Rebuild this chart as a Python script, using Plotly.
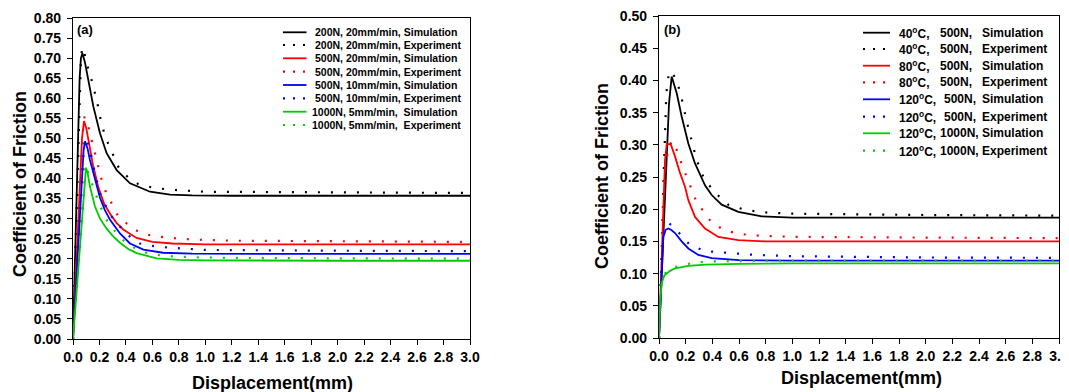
import plotly.graph_objects as go

# ---------------- Panel (a) data ----------------
a_200_20_sim_x = [0, 0.01, 0.02, 0.03, 0.04, 0.05, 0.06, 0.071, 0.09, 0.116, 0.154, 0.204, 0.254, 0.33, 0.431, 0.582, 0.733, 0.9, 1.2, 2.0, 3.0]
a_200_20_sim_y = [0, 0.13, 0.27, 0.42, 0.56, 0.65, 0.70, 0.712, 0.69, 0.645, 0.579, 0.513, 0.463, 0.421, 0.388, 0.367, 0.360, 0.358, 0.357, 0.357, 0.357]
a_200_20_exp_x = [0, 0.01, 0.02, 0.035, 0.05, 0.06, 0.071, 0.085, 0.103, 0.141, 0.179, 0.217, 0.254, 0.292, 0.343, 0.393, 0.494, 0.607, 0.733, 1.0, 1.5, 2.0, 3.0]
a_200_20_exp_y = [0, 0.12, 0.26, 0.46, 0.64, 0.70, 0.727, 0.715, 0.687, 0.645, 0.596, 0.533, 0.496, 0.467, 0.429, 0.409, 0.386, 0.377, 0.372, 0.367, 0.366, 0.365, 0.364]

a_500_20_sim_x = [0, 0.02, 0.04, 0.055, 0.068, 0.083, 0.10, 0.12, 0.15, 0.19, 0.235, 0.28, 0.33, 0.38, 0.48, 0.60, 0.75, 1.0, 2.0, 3.0]
a_500_20_sim_y = [0, 0.14, 0.29, 0.40, 0.50, 0.543, 0.525, 0.49, 0.435, 0.38, 0.337, 0.312, 0.289, 0.273, 0.252, 0.242, 0.238, 0.236, 0.236, 0.236]
a_500_20_exp_x = [0, 0.02, 0.04, 0.06, 0.072, 0.087, 0.116, 0.141, 0.179, 0.217, 0.25, 0.292, 0.343, 0.405, 0.47, 0.53, 0.63, 0.73, 0.9, 1.2, 2.0, 3.0]
a_500_20_exp_y = [0, 0.13, 0.28, 0.43, 0.51, 0.554, 0.529, 0.496, 0.446, 0.396, 0.365, 0.336, 0.305, 0.288, 0.272, 0.262, 0.256, 0.252, 0.248, 0.245, 0.244, 0.242]

a_500_10_sim_x = [0, 0.02, 0.04, 0.066, 0.08, 0.091, 0.11, 0.128, 0.166, 0.204, 0.24, 0.28, 0.355, 0.431, 0.532, 0.68, 0.9, 1.5, 3.0]
a_500_10_sim_y = [0, 0.12, 0.24, 0.40, 0.47, 0.493, 0.475, 0.446, 0.396, 0.352, 0.322, 0.297, 0.263, 0.238, 0.223, 0.215, 0.213, 0.212, 0.212]
a_500_10_exp_x = [0, 0.02, 0.04, 0.07, 0.083, 0.095, 0.128, 0.166, 0.204, 0.25, 0.292, 0.355, 0.443, 0.506, 0.632, 0.81, 1.0, 2.0, 3.0]
a_500_10_exp_y = [0, 0.11, 0.23, 0.41, 0.48, 0.503, 0.471, 0.413, 0.363, 0.33, 0.305, 0.28, 0.251, 0.238, 0.23, 0.226, 0.222, 0.22, 0.219]

a_1000_5_sim_x = [0, 0.03, 0.06, 0.08, 0.09, 0.098, 0.11, 0.128, 0.166, 0.204, 0.254, 0.30, 0.355, 0.42, 0.481, 0.632, 0.8, 1.0, 2.0, 3.0]
a_1000_5_sim_y = [0, 0.13, 0.27, 0.36, 0.40, 0.427, 0.415, 0.38, 0.33, 0.30, 0.275, 0.257, 0.24, 0.224, 0.214, 0.201, 0.197, 0.196, 0.195, 0.195]
a_1000_5_exp_x = [0, 0.03, 0.06, 0.08, 0.095, 0.116, 0.154, 0.2, 0.26, 0.33, 0.393, 0.494, 0.582, 0.695, 0.9, 1.2, 2.0, 3.0]
a_1000_5_exp_y = [0, 0.12, 0.26, 0.36, 0.435, 0.413, 0.38, 0.335, 0.293, 0.263, 0.242, 0.222, 0.212, 0.207, 0.204, 0.202, 0.201, 0.200]

# ---------------- Panel (b) data ----------------
b_40_500_sim_x = [0, 0.02, 0.04, 0.058, 0.075, 0.095, 0.133, 0.17, 0.22, 0.27, 0.345, 0.395, 0.47, 0.595, 0.77, 1.0, 2.0, 3.0]
b_40_500_sim_y = [0, 0.10, 0.20, 0.302, 0.364, 0.406, 0.38, 0.344, 0.302, 0.271, 0.237, 0.222, 0.207, 0.196, 0.189, 0.187, 0.187, 0.187]
b_40_500_exp_x = [0, 0.02, 0.035, 0.045, 0.055, 0.07, 0.09, 0.133, 0.17, 0.208, 0.245, 0.283, 0.333, 0.408, 0.52, 0.645, 0.795, 1.0, 2.0, 3.0]
b_40_500_exp_y = [0, 0.12, 0.25, 0.33, 0.38, 0.405, 0.415, 0.40, 0.372, 0.336, 0.307, 0.276, 0.25, 0.228, 0.207, 0.199, 0.195, 0.193, 0.191, 0.190]

b_80_500_sim_x = [0, 0.01, 0.02, 0.032, 0.045, 0.058, 0.088, 0.12, 0.158, 0.195, 0.22, 0.27, 0.345, 0.445, 0.595, 0.8, 1.0, 3.0]
b_80_500_sim_y = [0, 0.06, 0.13, 0.214, 0.276, 0.301, 0.301, 0.282, 0.256, 0.235, 0.214, 0.188, 0.170, 0.157, 0.152, 0.150, 0.150, 0.150]
b_80_500_exp_x = [0, 0.015, 0.03, 0.05, 0.075, 0.108, 0.133, 0.158, 0.183, 0.208, 0.233, 0.258, 0.283, 0.345, 0.395, 0.47, 0.533, 0.633, 0.745, 1.0, 2.0, 3.0]
b_80_500_exp_y = [0, 0.10, 0.20, 0.27, 0.30, 0.306, 0.291, 0.277, 0.263, 0.25, 0.238, 0.224, 0.21, 0.194, 0.179, 0.170, 0.165, 0.161, 0.159, 0.157, 0.156, 0.155]

b_120_500_sim_x = [0, 0.008, 0.02, 0.032, 0.05, 0.07, 0.09, 0.12, 0.17, 0.22, 0.295, 0.395, 0.6, 1.0, 3.0]
b_120_500_sim_y = [0, 0.04, 0.116, 0.157, 0.168, 0.170, 0.168, 0.163, 0.15, 0.139, 0.129, 0.124, 0.121, 0.120, 0.120]
b_120_500_exp_x = [0, 0.01, 0.02, 0.035, 0.055, 0.075, 0.125, 0.17, 0.23, 0.345, 0.42, 0.545, 0.72, 1.0, 2.0, 3.0]
b_120_500_exp_y = [0, 0.06, 0.12, 0.16, 0.175, 0.178, 0.170, 0.158, 0.145, 0.135, 0.134, 0.1315, 0.129, 0.127, 0.125, 0.1245]

b_120_1000_sim_x = [0, 0.005, 0.01, 0.02, 0.04, 0.08, 0.12, 0.22, 0.35, 0.6, 1.0, 3.0]
b_120_1000_sim_y = [0, 0.035, 0.06, 0.085, 0.097, 0.104, 0.108, 0.112, 0.114, 0.115, 0.116, 0.116]
b_120_1000_exp_x = [0, 0.01, 0.03, 0.06, 0.115, 0.183, 0.26, 0.4, 1.0, 3.0]
b_120_1000_exp_y = [0, 0.07, 0.095, 0.105, 0.11, 0.113, 0.117, 0.119, 0.12, 0.12]

a_labels = ["200N, 20mm/min, Simulation", "200N, 20mm/min, Experiment",
            "500N, 20mm/min, Simulation", "500N, 20mm/min, Experiment",
            "500N, 10mm/min, Simulation", "500N, 10mm/min, Experiment",
            "1000N, 5mm/min,\u00a0 Simulation", "1000N, 5mm/min,\u00a0 Experiment"]
b_col1 = ["40<sup>o</sup>C,", "40<sup>o</sup>C,", "80<sup>o</sup>C,", "80<sup>o</sup>C,",
          "120<sup>o</sup>C,", "120<sup>o</sup>C,", "120<sup>o</sup>C,", "120<sup>o</sup>C,"]
b_col2 = ["500N,", "500N,", "500N,", "500N,", "500N,", "500N,", "1000N,", "1000N,"]
b_col3 = ["Simulation", "Experiment"] * 4

a_x_ticks = [round(0.2 * i, 1) for i in range(16)]
b_x_ticks = a_x_ticks
a_y_ticks = [round(0.05 * i, 2) for i in range(17)]
b_y_ticks = [round(0.05 * i, 2) for i in range(11)]

COLORS = ["#000000", "#ff0000", "#0000ff", "#00cc00"]
FONT = "Arial, 'Liberation Sans', sans-serif"
DOT = "2px,11px"

# page body has a default 8px margin; map reference pixels into figure pixels
OFF = 8
FW, FH = 1069, 392 - OFF

a_series = [
    (a_200_20_sim_x, a_200_20_sim_y), (a_200_20_exp_x, a_200_20_exp_y),
    (a_500_20_sim_x, a_500_20_sim_y), (a_500_20_exp_x, a_500_20_exp_y),
    (a_500_10_sim_x, a_500_10_sim_y), (a_500_10_exp_x, a_500_10_exp_y),
    (a_1000_5_sim_x, a_1000_5_sim_y), (a_1000_5_exp_x, a_1000_5_exp_y),
]
b_series = [
    (b_40_500_sim_x, b_40_500_sim_y), (b_40_500_exp_x, b_40_500_exp_y),
    (b_80_500_sim_x, b_80_500_sim_y), (b_80_500_exp_x, b_80_500_exp_y),
    (b_120_500_sim_x, b_120_500_sim_y), (b_120_500_exp_x, b_120_500_exp_y),
    (b_120_1000_sim_x, b_120_1000_sim_y), (b_120_1000_exp_x, b_120_1000_exp_y),
]

fig = go.Figure()
for i, (xs, ys) in enumerate(a_series):
    c = COLORS[i // 2]
    sim = i % 2 == 0
    fig.add_trace(go.Scatter(x=xs, y=ys, mode="lines", xaxis="x", yaxis="y",
                             line=dict(color=c, width=1.8 if sim else 2.2, dash="solid" if sim else DOT),
                             name=a_labels[i], showlegend=False))
for i, (xs, ys) in enumerate(b_series):
    c = COLORS[i // 2]
    sim = i % 2 == 0
    fig.add_trace(go.Scatter(x=xs, y=ys, mode="lines", xaxis="x2", yaxis="y2",
                             line=dict(color=c, width=1.8 if sim else 2.2, dash="solid" if sim else DOT),
                             name=b_col1[i] + " " + b_col2[i] + " " + b_col3[i], showlegend=False))


def px(x):
    return (x - OFF) / FW


def py(y):
    return 1 - (y - OFF) / FH


tickfont = dict(family=FONT, size=14, color="black", weight="bold")
common_ax = dict(showline=True, linecolor="black", linewidth=1.2, mirror=True,
                 ticks="outside", ticklen=5, tickwidth=1.2, tickcolor="black",
                 showgrid=False, zeroline=False, tickfont=tickfont, automargin=False,
                 ticklabeloverflow="allow")

fig.update_layout(
    width=FW, height=FH, margin=dict(l=0, r=0, t=0, b=0, autoexpand=False),
    paper_bgcolor="white", plot_bgcolor="white", showlegend=False,
    xaxis=dict(domain=[px(73), px(470)], range=[0, 3], tickvals=a_x_ticks, tickformat=".1f",
               anchor="y", **common_ax),
    yaxis=dict(domain=[py(339), py(18)], range=[0, 0.8], tickvals=a_y_ticks, tickformat=".2f",
               anchor="x", ticklabelstandoff=3, **common_ax),
    xaxis2=dict(domain=[px(659), px(1059)], range=[0, 3], tickvals=b_x_ticks, tickformat=".1f",
                anchor="y2", **common_ax),
    yaxis2=dict(domain=[py(338), py(16)], range=[0, 0.5], tickvals=b_y_ticks, tickformat=".2f",
                anchor="x2", ticklabelstandoff=3, **common_ax),
)

ann = []
shapes = []
title_font = dict(family=FONT, size=18, color="black", weight="bold")
ann.append(dict(text="Displacement(mm)", x=px(272), y=py(383), xref="paper", yref="paper",
                showarrow=False, font=title_font, xanchor="center", yanchor="middle"))
ann.append(dict(text="Displacement(mm)", x=px(861), y=py(378), xref="paper", yref="paper",
                showarrow=False, font=title_font, xanchor="center", yanchor="middle"))
ann.append(dict(text="Coefficient of Friction", x=px(20), y=py(184), xref="paper", yref="paper",
                showarrow=False, font=title_font, textangle=-90, xanchor="center", yanchor="middle"))
ann.append(dict(text="Coefficient of Friction", x=px(602), y=py(176), xref="paper", yref="paper",
                showarrow=False, font=title_font, textangle=-90, xanchor="center", yanchor="middle"))
lab_font = dict(family=FONT, size=13, color="black", weight="bold")
ann.append(dict(text="(a)", x=px(75), y=py(30), xref="paper", yref="paper", showarrow=False,
                font=lab_font, xanchor="left", yanchor="middle"))
ann.append(dict(text="(b)", x=px(662), y=py(29), xref="paper", yref="paper", showarrow=False,
                font=lab_font, xanchor="left", yanchor="middle"))

# legend (a)
a_rows = [32.3, 45, 58.3, 71.7, 85, 98.3, 111.7, 125]
leg_font_a = dict(family=FONT, size=10.5, color="black", weight="bold")
for i, ry in enumerate(a_rows):
    c = COLORS[i // 2]
    sim = i % 2 == 0
    shapes.append(dict(type="line", xref="paper", yref="paper", x0=px(283), x1=px(306.5),
                       y0=py(ry), y1=py(ry),
                       line=dict(color=c, width=1.8 if sim else 2.2, dash="solid" if sim else "2px,8px")))
    tx = 309.5 if i >= 6 else 312.7
    ann.append(dict(text=a_labels[i], x=px(tx), y=py(ry), xref="paper", yref="paper",
                    showarrow=False, font=leg_font_a, xanchor="left", yanchor="middle"))

# legend (b)
b_rows = [32.7, 49, 65.7, 82.3, 99.3, 116.7, 133.3, 150.7]
leg_font_b = dict(family=FONT, size=12, color="black", weight="bold")
for i, ry in enumerate(b_rows):
    c = COLORS[i // 2]
    sim = i % 2 == 0
    shapes.append(dict(type="line", xref="paper", yref="paper", x0=px(863), x1=px(890),
                       y0=py(ry), y1=py(ry),
                       line=dict(color=c, width=1.8 if sim else 2.2, dash="solid" if sim else "2px,8px")))
    ann.append(dict(text=b_col1[i], x=px(897), y=py(ry), xref="paper", yref="paper",
                    showarrow=False, font=leg_font_b, xanchor="left", yanchor="middle"))
    c2x = 938.3 if (i < 4 or i >= 6) else 941.5
    ann.append(dict(text=b_col2[i], x=px(c2x), y=py(ry), xref="paper", yref="paper",
                    showarrow=False, font=leg_font_b, xanchor="left", yanchor="middle"))
    ann.append(dict(text=b_col3[i], x=px(980), y=py(ry), xref="paper", yref="paper",
                    showarrow=False, font=leg_font_b, xanchor="left", yanchor="middle"))

fig.update_layout(annotations=ann, shapes=shapes)
fig.write_html("out.html")
